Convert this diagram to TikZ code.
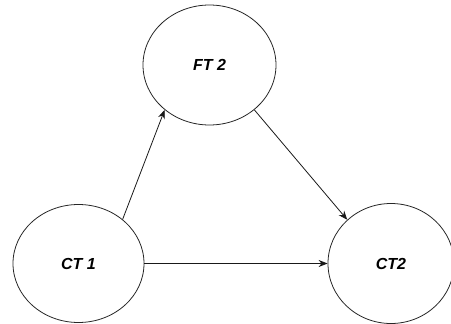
\documentclass[tikz,border=0pt]{standalone}
\usepackage{fontspec}
\setmainfont{Liberation Sans}
\usetikzlibrary{shapes.geometric,arrows.meta}
\begin{document}
\begin{tikzpicture}[x=1pt,y=-1pt,
  state/.style={ellipse,draw=black!85,line width=0.8pt,inner sep=0pt,
    font=\fontsize{16}{19}\selectfont\bfseries\itshape},
  link/.style={draw=black!90,line width=0.8pt,-{Stealth[length=9pt,width=7pt]}}]
  \useasboundingbox (0,0) rectangle (451,324);
  \node[state,minimum width=133pt,minimum height=120pt] (ft2) at (209.5,65) {FT 2};
  \node[state,minimum width=131pt,minimum height=118pt] (ct1) at (78.5,263.5) {CT 1};
  \node[state,minimum width=126pt,minimum height=120pt] (ct2) at (391,263.5) {CT2};
  \draw[link] (ct1.45) -- (ft2.225);
  \draw[link] (ft2.-45) -- (ct2.135);
  \draw[link] (ct1.east) -- (ct2.west);
\end{tikzpicture}
\end{document}
